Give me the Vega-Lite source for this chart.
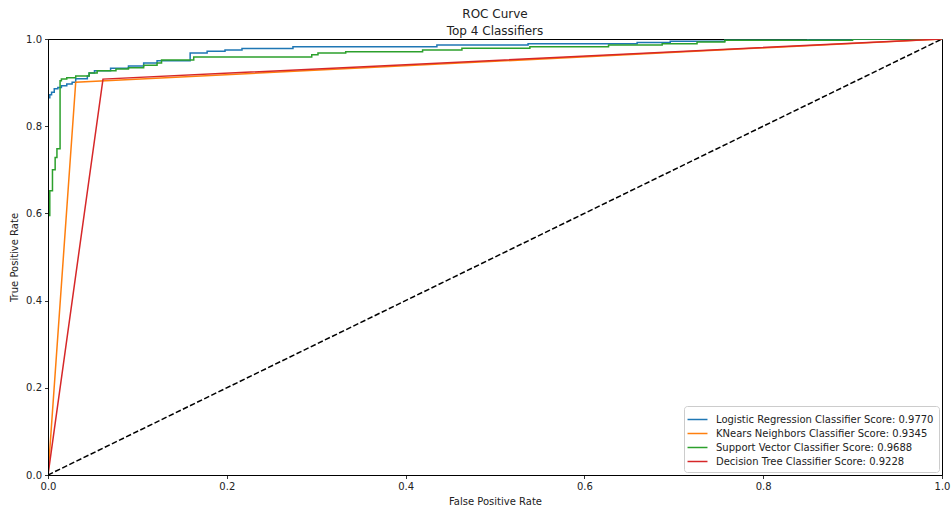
{
  "$schema": "https://vega.github.io/schema/vega-lite/v6.json",
  "autosize": {"type": "none"},
  "padding": {"left": 48, "top": 39, "right": 10, "bottom": 37},
  "width": 894,
  "height": 436,
  "config": {
    "font": "DejaVu Sans",
    "view": {"stroke": "black", "strokeWidth": 1},
    "axis": {
      "grid": false,
      "labelFlush": false,
      "domainColor": "black",
      "domainWidth": 1,
      "tickColor": "black",
      "tickSize": 3.5,
      "tickWidth": 0.8,
      "labelFont": "DejaVu Sans",
      "labelFontSize": 10,
      "labelColor": "#222222",
      "labelPadding": 3,
      "titleFont": "DejaVu Sans",
      "titleFontSize": 10,
      "titleFontWeight": "normal",
      "titleColor": "#222222"
    },
    "title": {
      "font": "DejaVu Sans",
      "fontSize": 12,
      "fontWeight": "normal",
      "color": "#222222",
      "subtitleFont": "DejaVu Sans",
      "subtitleFontSize": 12,
      "subtitleColor": "#222222",
      "subtitlePadding": 5,
      "anchor": "middle",
      "offset": -4
    }
  },
  "title": {"text": "ROC Curve", "subtitle": "Top 4 Classifiers"},
  "datasets": {
    "roc": [
      {"model": "Logistic Regression Classifier Score: 0.9770", "i": 0, "fpr": 0, "tpr": 0},
      {"model": "Logistic Regression Classifier Score: 0.9770", "i": 1, "fpr": 0, "tpr": 0.865},
      {"model": "Logistic Regression Classifier Score: 0.9770", "i": 2, "fpr": 0.002, "tpr": 0.865},
      {"model": "Logistic Regression Classifier Score: 0.9770", "i": 3, "fpr": 0.002, "tpr": 0.872},
      {"model": "Logistic Regression Classifier Score: 0.9770", "i": 4, "fpr": 0.004, "tpr": 0.872},
      {"model": "Logistic Regression Classifier Score: 0.9770", "i": 5, "fpr": 0.004, "tpr": 0.878},
      {"model": "Logistic Regression Classifier Score: 0.9770", "i": 6, "fpr": 0.007, "tpr": 0.878},
      {"model": "Logistic Regression Classifier Score: 0.9770", "i": 7, "fpr": 0.007, "tpr": 0.886},
      {"model": "Logistic Regression Classifier Score: 0.9770", "i": 8, "fpr": 0.011, "tpr": 0.886},
      {"model": "Logistic Regression Classifier Score: 0.9770", "i": 9, "fpr": 0.011, "tpr": 0.889},
      {"model": "Logistic Regression Classifier Score: 0.9770", "i": 10, "fpr": 0.015, "tpr": 0.889},
      {"model": "Logistic Regression Classifier Score: 0.9770", "i": 11, "fpr": 0.015, "tpr": 0.893},
      {"model": "Logistic Regression Classifier Score: 0.9770", "i": 12, "fpr": 0.021, "tpr": 0.893},
      {"model": "Logistic Regression Classifier Score: 0.9770", "i": 13, "fpr": 0.021, "tpr": 0.897},
      {"model": "Logistic Regression Classifier Score: 0.9770", "i": 14, "fpr": 0.027, "tpr": 0.897},
      {"model": "Logistic Regression Classifier Score: 0.9770", "i": 15, "fpr": 0.027, "tpr": 0.901},
      {"model": "Logistic Regression Classifier Score: 0.9770", "i": 16, "fpr": 0.031, "tpr": 0.901},
      {"model": "Logistic Regression Classifier Score: 0.9770", "i": 17, "fpr": 0.031, "tpr": 0.909},
      {"model": "Logistic Regression Classifier Score: 0.9770", "i": 18, "fpr": 0.044, "tpr": 0.909},
      {"model": "Logistic Regression Classifier Score: 0.9770", "i": 19, "fpr": 0.044, "tpr": 0.915},
      {"model": "Logistic Regression Classifier Score: 0.9770", "i": 20, "fpr": 0.046, "tpr": 0.915},
      {"model": "Logistic Regression Classifier Score: 0.9770", "i": 21, "fpr": 0.046, "tpr": 0.922},
      {"model": "Logistic Regression Classifier Score: 0.9770", "i": 22, "fpr": 0.052, "tpr": 0.922},
      {"model": "Logistic Regression Classifier Score: 0.9770", "i": 23, "fpr": 0.052, "tpr": 0.927},
      {"model": "Logistic Regression Classifier Score: 0.9770", "i": 24, "fpr": 0.07, "tpr": 0.927},
      {"model": "Logistic Regression Classifier Score: 0.9770", "i": 25, "fpr": 0.07, "tpr": 0.933},
      {"model": "Logistic Regression Classifier Score: 0.9770", "i": 26, "fpr": 0.09, "tpr": 0.933},
      {"model": "Logistic Regression Classifier Score: 0.9770", "i": 27, "fpr": 0.09, "tpr": 0.938},
      {"model": "Logistic Regression Classifier Score: 0.9770", "i": 28, "fpr": 0.107, "tpr": 0.938},
      {"model": "Logistic Regression Classifier Score: 0.9770", "i": 29, "fpr": 0.107, "tpr": 0.945},
      {"model": "Logistic Regression Classifier Score: 0.9770", "i": 30, "fpr": 0.122, "tpr": 0.945},
      {"model": "Logistic Regression Classifier Score: 0.9770", "i": 31, "fpr": 0.122, "tpr": 0.95},
      {"model": "Logistic Regression Classifier Score: 0.9770", "i": 32, "fpr": 0.159, "tpr": 0.95},
      {"model": "Logistic Regression Classifier Score: 0.9770", "i": 33, "fpr": 0.159, "tpr": 0.968},
      {"model": "Logistic Regression Classifier Score: 0.9770", "i": 34, "fpr": 0.178, "tpr": 0.968},
      {"model": "Logistic Regression Classifier Score: 0.9770", "i": 35, "fpr": 0.178, "tpr": 0.972},
      {"model": "Logistic Regression Classifier Score: 0.9770", "i": 36, "fpr": 0.198, "tpr": 0.972},
      {"model": "Logistic Regression Classifier Score: 0.9770", "i": 37, "fpr": 0.198, "tpr": 0.975},
      {"model": "Logistic Regression Classifier Score: 0.9770", "i": 38, "fpr": 0.217, "tpr": 0.975},
      {"model": "Logistic Regression Classifier Score: 0.9770", "i": 39, "fpr": 0.217, "tpr": 0.978},
      {"model": "Logistic Regression Classifier Score: 0.9770", "i": 40, "fpr": 0.274, "tpr": 0.978},
      {"model": "Logistic Regression Classifier Score: 0.9770", "i": 41, "fpr": 0.274, "tpr": 0.982},
      {"model": "Logistic Regression Classifier Score: 0.9770", "i": 42, "fpr": 0.435, "tpr": 0.982},
      {"model": "Logistic Regression Classifier Score: 0.9770", "i": 43, "fpr": 0.435, "tpr": 0.986},
      {"model": "Logistic Regression Classifier Score: 0.9770", "i": 44, "fpr": 0.537, "tpr": 0.986},
      {"model": "Logistic Regression Classifier Score: 0.9770", "i": 45, "fpr": 0.537, "tpr": 0.989},
      {"model": "Logistic Regression Classifier Score: 0.9770", "i": 46, "fpr": 0.659, "tpr": 0.989},
      {"model": "Logistic Regression Classifier Score: 0.9770", "i": 47, "fpr": 0.659, "tpr": 0.992},
      {"model": "Logistic Regression Classifier Score: 0.9770", "i": 48, "fpr": 0.696, "tpr": 0.992},
      {"model": "Logistic Regression Classifier Score: 0.9770", "i": 49, "fpr": 0.696, "tpr": 0.995},
      {"model": "Logistic Regression Classifier Score: 0.9770", "i": 50, "fpr": 0.757, "tpr": 0.995},
      {"model": "Logistic Regression Classifier Score: 0.9770", "i": 51, "fpr": 0.757, "tpr": 0.997},
      {"model": "Logistic Regression Classifier Score: 0.9770", "i": 52, "fpr": 0.85, "tpr": 0.997},
      {"model": "Logistic Regression Classifier Score: 0.9770", "i": 53, "fpr": 0.85, "tpr": 1},
      {"model": "Logistic Regression Classifier Score: 0.9770", "i": 54, "fpr": 1, "tpr": 1},

      {"model": "KNears Neighbors Classifier Score: 0.9345", "i": 0, "fpr": 0, "tpr": 0},
      {"model": "KNears Neighbors Classifier Score: 0.9345", "i": 1, "fpr": 0.031, "tpr": 0.901},
      {"model": "KNears Neighbors Classifier Score: 0.9345", "i": 2, "fpr": 1, "tpr": 1},

      {"model": "Support Vector Classifier Score: 0.9688", "i": 0, "fpr": 0, "tpr": 0},
      {"model": "Support Vector Classifier Score: 0.9688", "i": 1, "fpr": 0, "tpr": 0.595},
      {"model": "Support Vector Classifier Score: 0.9688", "i": 2, "fpr": 0.002, "tpr": 0.595},
      {"model": "Support Vector Classifier Score: 0.9688", "i": 3, "fpr": 0.002, "tpr": 0.652},
      {"model": "Support Vector Classifier Score: 0.9688", "i": 4, "fpr": 0.005, "tpr": 0.652},
      {"model": "Support Vector Classifier Score: 0.9688", "i": 5, "fpr": 0.005, "tpr": 0.7},
      {"model": "Support Vector Classifier Score: 0.9688", "i": 6, "fpr": 0.008, "tpr": 0.7},
      {"model": "Support Vector Classifier Score: 0.9688", "i": 7, "fpr": 0.008, "tpr": 0.728},
      {"model": "Support Vector Classifier Score: 0.9688", "i": 8, "fpr": 0.01, "tpr": 0.728},
      {"model": "Support Vector Classifier Score: 0.9688", "i": 9, "fpr": 0.01, "tpr": 0.748},
      {"model": "Support Vector Classifier Score: 0.9688", "i": 10, "fpr": 0.0135, "tpr": 0.748},
      {"model": "Support Vector Classifier Score: 0.9688", "i": 11, "fpr": 0.0135, "tpr": 0.904},
      {"model": "Support Vector Classifier Score: 0.9688", "i": 12, "fpr": 0.015, "tpr": 0.904},
      {"model": "Support Vector Classifier Score: 0.9688", "i": 13, "fpr": 0.015, "tpr": 0.908},
      {"model": "Support Vector Classifier Score: 0.9688", "i": 14, "fpr": 0.021, "tpr": 0.908},
      {"model": "Support Vector Classifier Score: 0.9688", "i": 15, "fpr": 0.021, "tpr": 0.911},
      {"model": "Support Vector Classifier Score: 0.9688", "i": 16, "fpr": 0.031, "tpr": 0.911},
      {"model": "Support Vector Classifier Score: 0.9688", "i": 17, "fpr": 0.031, "tpr": 0.915},
      {"model": "Support Vector Classifier Score: 0.9688", "i": 18, "fpr": 0.046, "tpr": 0.915},
      {"model": "Support Vector Classifier Score: 0.9688", "i": 19, "fpr": 0.046, "tpr": 0.922},
      {"model": "Support Vector Classifier Score: 0.9688", "i": 20, "fpr": 0.055, "tpr": 0.922},
      {"model": "Support Vector Classifier Score: 0.9688", "i": 21, "fpr": 0.055, "tpr": 0.927},
      {"model": "Support Vector Classifier Score: 0.9688", "i": 22, "fpr": 0.076, "tpr": 0.927},
      {"model": "Support Vector Classifier Score: 0.9688", "i": 23, "fpr": 0.076, "tpr": 0.931},
      {"model": "Support Vector Classifier Score: 0.9688", "i": 24, "fpr": 0.09, "tpr": 0.931},
      {"model": "Support Vector Classifier Score: 0.9688", "i": 25, "fpr": 0.09, "tpr": 0.934},
      {"model": "Support Vector Classifier Score: 0.9688", "i": 26, "fpr": 0.107, "tpr": 0.934},
      {"model": "Support Vector Classifier Score: 0.9688", "i": 27, "fpr": 0.107, "tpr": 0.94},
      {"model": "Support Vector Classifier Score: 0.9688", "i": 28, "fpr": 0.122, "tpr": 0.94},
      {"model": "Support Vector Classifier Score: 0.9688", "i": 29, "fpr": 0.122, "tpr": 0.945},
      {"model": "Support Vector Classifier Score: 0.9688", "i": 30, "fpr": 0.127, "tpr": 0.945},
      {"model": "Support Vector Classifier Score: 0.9688", "i": 31, "fpr": 0.127, "tpr": 0.952},
      {"model": "Support Vector Classifier Score: 0.9688", "i": 32, "fpr": 0.163, "tpr": 0.952},
      {"model": "Support Vector Classifier Score: 0.9688", "i": 33, "fpr": 0.163, "tpr": 0.959},
      {"model": "Support Vector Classifier Score: 0.9688", "i": 34, "fpr": 0.295, "tpr": 0.959},
      {"model": "Support Vector Classifier Score: 0.9688", "i": 35, "fpr": 0.295, "tpr": 0.964},
      {"model": "Support Vector Classifier Score: 0.9688", "i": 36, "fpr": 0.302, "tpr": 0.964},
      {"model": "Support Vector Classifier Score: 0.9688", "i": 37, "fpr": 0.302, "tpr": 0.968},
      {"model": "Support Vector Classifier Score: 0.9688", "i": 38, "fpr": 0.333, "tpr": 0.968},
      {"model": "Support Vector Classifier Score: 0.9688", "i": 39, "fpr": 0.333, "tpr": 0.971},
      {"model": "Support Vector Classifier Score: 0.9688", "i": 40, "fpr": 0.419, "tpr": 0.971},
      {"model": "Support Vector Classifier Score: 0.9688", "i": 41, "fpr": 0.419, "tpr": 0.975},
      {"model": "Support Vector Classifier Score: 0.9688", "i": 42, "fpr": 0.463, "tpr": 0.975},
      {"model": "Support Vector Classifier Score: 0.9688", "i": 43, "fpr": 0.463, "tpr": 0.979},
      {"model": "Support Vector Classifier Score: 0.9688", "i": 44, "fpr": 0.539, "tpr": 0.979},
      {"model": "Support Vector Classifier Score: 0.9688", "i": 45, "fpr": 0.539, "tpr": 0.982},
      {"model": "Support Vector Classifier Score: 0.9688", "i": 46, "fpr": 0.627, "tpr": 0.982},
      {"model": "Support Vector Classifier Score: 0.9688", "i": 47, "fpr": 0.627, "tpr": 0.986},
      {"model": "Support Vector Classifier Score: 0.9688", "i": 48, "fpr": 0.687, "tpr": 0.986},
      {"model": "Support Vector Classifier Score: 0.9688", "i": 49, "fpr": 0.687, "tpr": 0.989},
      {"model": "Support Vector Classifier Score: 0.9688", "i": 50, "fpr": 0.726, "tpr": 0.989},
      {"model": "Support Vector Classifier Score: 0.9688", "i": 51, "fpr": 0.726, "tpr": 0.993},
      {"model": "Support Vector Classifier Score: 0.9688", "i": 52, "fpr": 0.757, "tpr": 0.993},
      {"model": "Support Vector Classifier Score: 0.9688", "i": 53, "fpr": 0.757, "tpr": 0.997},
      {"model": "Support Vector Classifier Score: 0.9688", "i": 54, "fpr": 0.9, "tpr": 0.997},
      {"model": "Support Vector Classifier Score: 0.9688", "i": 55, "fpr": 0.9, "tpr": 1},
      {"model": "Support Vector Classifier Score: 0.9688", "i": 56, "fpr": 1, "tpr": 1},

      {"model": "Decision Tree Classifier Score: 0.9228", "i": 0, "fpr": 0, "tpr": 0},
      {"model": "Decision Tree Classifier Score: 0.9228", "i": 1, "fpr": 0.0615, "tpr": 0.908},
      {"model": "Decision Tree Classifier Score: 0.9228", "i": 2, "fpr": 1, "tpr": 1}
    ],
    "chance": [
      {"fpr": 0, "tpr": 0},
      {"fpr": 1, "tpr": 1}
    ]
  },
  "encoding": {
    "x": {
      "field": "fpr",
      "type": "quantitative",
      "scale": {"domain": [0, 1], "nice": false, "zero": false},
      "axis": {"title": "False Positive Rate", "values": [0, 0.2, 0.4, 0.6, 0.8, 1], "format": ".1f", "titlePadding": 5}
    },
    "y": {
      "field": "tpr",
      "type": "quantitative",
      "scale": {"domain": [0, 1], "nice": false, "zero": false},
      "axis": {"title": "True Positive Rate", "values": [0, 0.2, 0.4, 0.6, 0.8, 1], "format": ".1f", "titlePadding": 6, "zindex": 1}
    }
  },
  "layer": [
    {
      "data": {"name": "chance"},
      "mark": {"type": "line", "color": "black", "strokeWidth": 1.5, "strokeDash": [5.5, 2.4], "clip": true}
    },
    {
      "data": {"name": "roc"},
      "transform": [{"filter": "datum.model === 'Logistic Regression Classifier Score: 0.9770'"}],
      "mark": {"type": "line", "strokeWidth": 1.5, "clip": true},
      "encoding": {
        "order": {"field": "i", "type": "quantitative"},
        "color": {
          "field": "model",
          "type": "nominal",
          "scale": {
            "domain": [
              "Logistic Regression Classifier Score: 0.9770",
              "KNears Neighbors Classifier Score: 0.9345",
              "Support Vector Classifier Score: 0.9688",
              "Decision Tree Classifier Score: 0.9228"
            ],
            "range": ["#1f77b4", "#ff7f0e", "#2ca02c", "#d62728"]
          },
          "legend": {
            "title": null,
            "orient": "bottom-right",
            "offset": 3,
            "padding": 5,
            "cornerRadius": 3,
            "strokeColor": "#cccccc",
            "fillColor": "white",
            "symbolType": "M-1.33,0H1.33",
            "symbolSize": 225,
            "symbolStrokeWidth": 1.5,
            "labelFont": "DejaVu Sans",
            "labelFontSize": 10,
            "labelColor": "#222222",
            "labelOffset": 10,
            "rowPadding": 0,
            "labelLimit": 400
          }
        }
      }
    },
    {
      "data": {"name": "roc"},
      "transform": [{"filter": "datum.model === 'KNears Neighbors Classifier Score: 0.9345'"}],
      "mark": {"type": "line", "strokeWidth": 1.5, "clip": true},
      "encoding": {
        "order": {"field": "i", "type": "quantitative"},
        "color": {"field": "model", "type": "nominal"}
      }
    },
    {
      "data": {"name": "roc"},
      "transform": [{"filter": "datum.model === 'Support Vector Classifier Score: 0.9688'"}],
      "mark": {"type": "line", "strokeWidth": 1.5, "clip": true},
      "encoding": {
        "order": {"field": "i", "type": "quantitative"},
        "color": {"field": "model", "type": "nominal"}
      }
    },
    {
      "data": {"name": "roc"},
      "transform": [{"filter": "datum.model === 'Decision Tree Classifier Score: 0.9228'"}],
      "mark": {"type": "line", "strokeWidth": 1.5, "clip": true},
      "encoding": {
        "order": {"field": "i", "type": "quantitative"},
        "color": {"field": "model", "type": "nominal"}
      }
    }
  ]
}
